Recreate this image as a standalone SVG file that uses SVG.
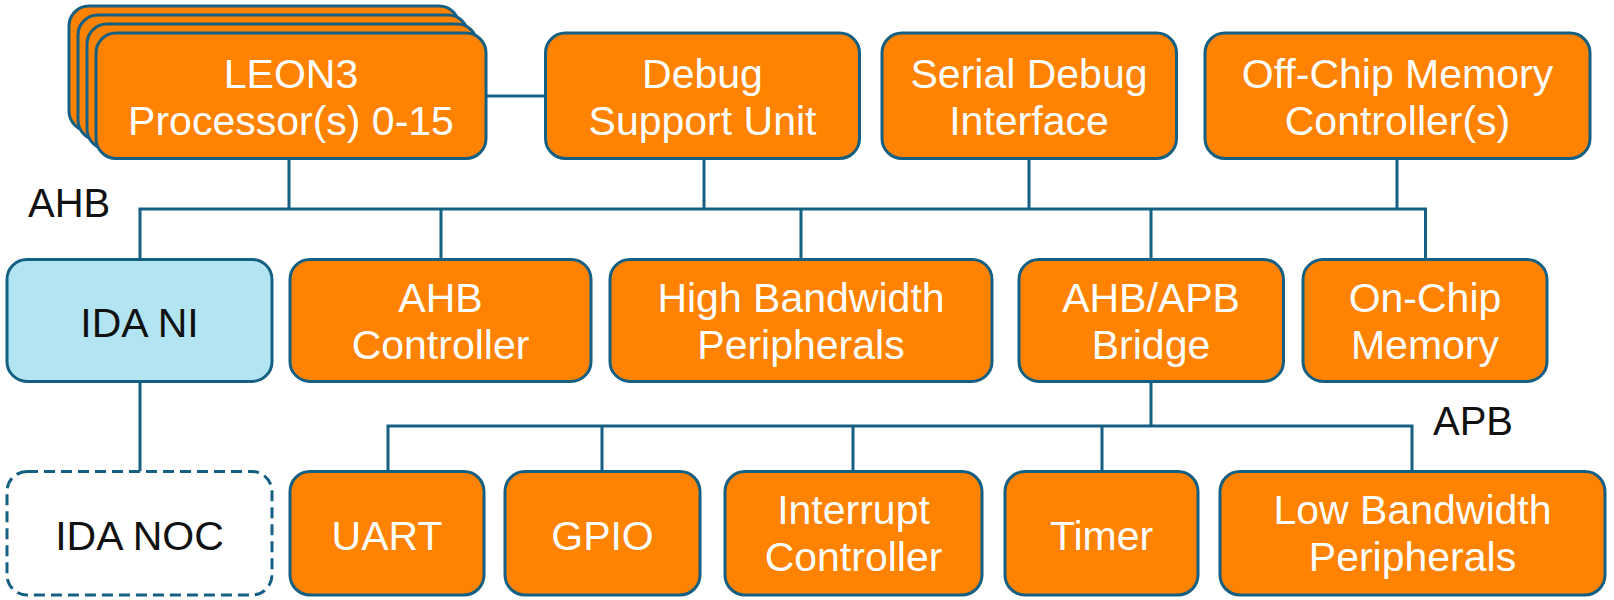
<svg xmlns="http://www.w3.org/2000/svg" width="1614" height="600" viewBox="0 0 1614 600">
<style>
.box{fill:#FF8200;stroke:#156082;stroke-width:3}
.ni{fill:#B3E4F2;stroke:#156082;stroke-width:3}
.noc{fill:#FFFFFF;stroke:#156082;stroke-width:3;stroke-dasharray:11 6}
.t{font-family:"Liberation Sans",Arial,sans-serif;font-size:41px;fill:#FFFFFF;text-anchor:middle}
.d{font-family:"Liberation Sans",Arial,sans-serif;font-size:41px;fill:#111111;text-anchor:middle}
.lbl{font-family:"Liberation Sans",Arial,sans-serif;font-size:40px;fill:#111111}
.c{fill:none;stroke:#156082;stroke-width:3}
</style>
<rect width="1614" height="600" fill="#FFFFFF"/>
<g id="connectors">
<path class="c" d="M486 96H545.5"/>
<path class="c" d="M140 259.4V209H1425.5V259.4"/>
<path class="c" d="M289 158.5V209M704 158.5V209M1029 158.5V209M1397 158.5V209"/>
<path class="c" d="M441 209V259.4M801 209V259.4M1151 209V259.4"/>
<path class="c" d="M140 381V471.5"/>
<path class="c" d="M1151 381V426"/>
<path class="c" d="M388 471.5V426H1412V471.5"/>
<path class="c" d="M602 426V471.5M853 426V471.5M1102 426V471.5"/>
</g>
<g id="leon3">
<rect class="box" x="69" y="6" width="390" height="125" rx="20"/>
<rect class="box" x="78" y="15" width="390" height="125" rx="20"/>
<rect class="box" x="87" y="24" width="390" height="125" rx="20"/>
<rect class="box" x="96" y="33" width="390" height="125.5" rx="20"/>
<text class="t" x="291" y="88">LEON3</text>
<text class="t" x="291" y="135">Processor(s) 0-15</text>
</g>
<g id="dsu">
<rect class="box" x="545.5" y="33" width="314" height="125.5" rx="20"/>
<text class="t" x="702.5" y="88">Debug</text>
<text class="t" x="702.5" y="135">Support Unit</text>
</g>
<g id="sdi">
<rect class="box" x="882" y="33" width="294.5" height="125.5" rx="20"/>
<text class="t" x="1029" y="88">Serial Debug</text>
<text class="t" x="1029" y="135">Interface</text>
</g>
<g id="offchip">
<rect class="box" x="1205" y="33" width="385" height="125.5" rx="20"/>
<text class="t" x="1397.5" y="88">Off-Chip Memory</text>
<text class="t" x="1397.5" y="135">Controller(s)</text>
</g>
<text class="lbl" x="28" y="217">AHB</text>
<g id="idani">
<rect class="ni" x="7" y="259.4" width="265" height="122" rx="20"/>
<text class="d" x="139.5" y="337">IDA NI</text>
</g>
<g id="ahbctrl">
<rect class="box" x="290" y="259.4" width="301" height="122" rx="20"/>
<text class="t" x="440.5" y="312">AHB</text>
<text class="t" x="440.5" y="359">Controller</text>
</g>
<g id="hbw">
<rect class="box" x="610" y="259.4" width="382" height="122" rx="20"/>
<text class="t" x="801" y="312">High Bandwidth</text>
<text class="t" x="801" y="359">Peripherals</text>
</g>
<g id="bridge">
<rect class="box" x="1019" y="259.4" width="264.5" height="122" rx="20"/>
<text class="t" x="1151" y="312">AHB/APB</text>
<text class="t" x="1151" y="359">Bridge</text>
</g>
<g id="onchip">
<rect class="box" x="1303" y="259.4" width="244" height="122" rx="20"/>
<text class="t" x="1425" y="312">On-Chip</text>
<text class="t" x="1425" y="359">Memory</text>
</g>
<text class="lbl" x="1433" y="435">APB</text>
<g id="idanoc">
<rect class="noc" x="7" y="471.5" width="265" height="123.5" rx="20"/>
<text class="d" x="139.5" y="550">IDA NOC</text>
</g>
<g id="uart">
<rect class="box" x="290" y="471.5" width="194" height="123.5" rx="20"/>
<text class="t" x="387" y="550">UART</text>
</g>
<g id="gpio">
<rect class="box" x="505" y="471.5" width="195" height="123.5" rx="20"/>
<text class="t" x="602.5" y="550">GPIO</text>
</g>
<g id="irq">
<rect class="box" x="725" y="471.5" width="257" height="123.5" rx="20"/>
<text class="t" x="853.5" y="524">Interrupt</text>
<text class="t" x="853.5" y="571">Controller</text>
</g>
<g id="timer">
<rect class="box" x="1005" y="471.5" width="193" height="123.5" rx="20"/>
<text class="t" x="1101.5" y="550">Timer</text>
</g>
<g id="lbw">
<rect class="box" x="1220" y="471.5" width="385" height="123.5" rx="20"/>
<text class="t" x="1412.5" y="524">Low Bandwidth</text>
<text class="t" x="1412.5" y="571">Peripherals</text>
</g>
</svg>
